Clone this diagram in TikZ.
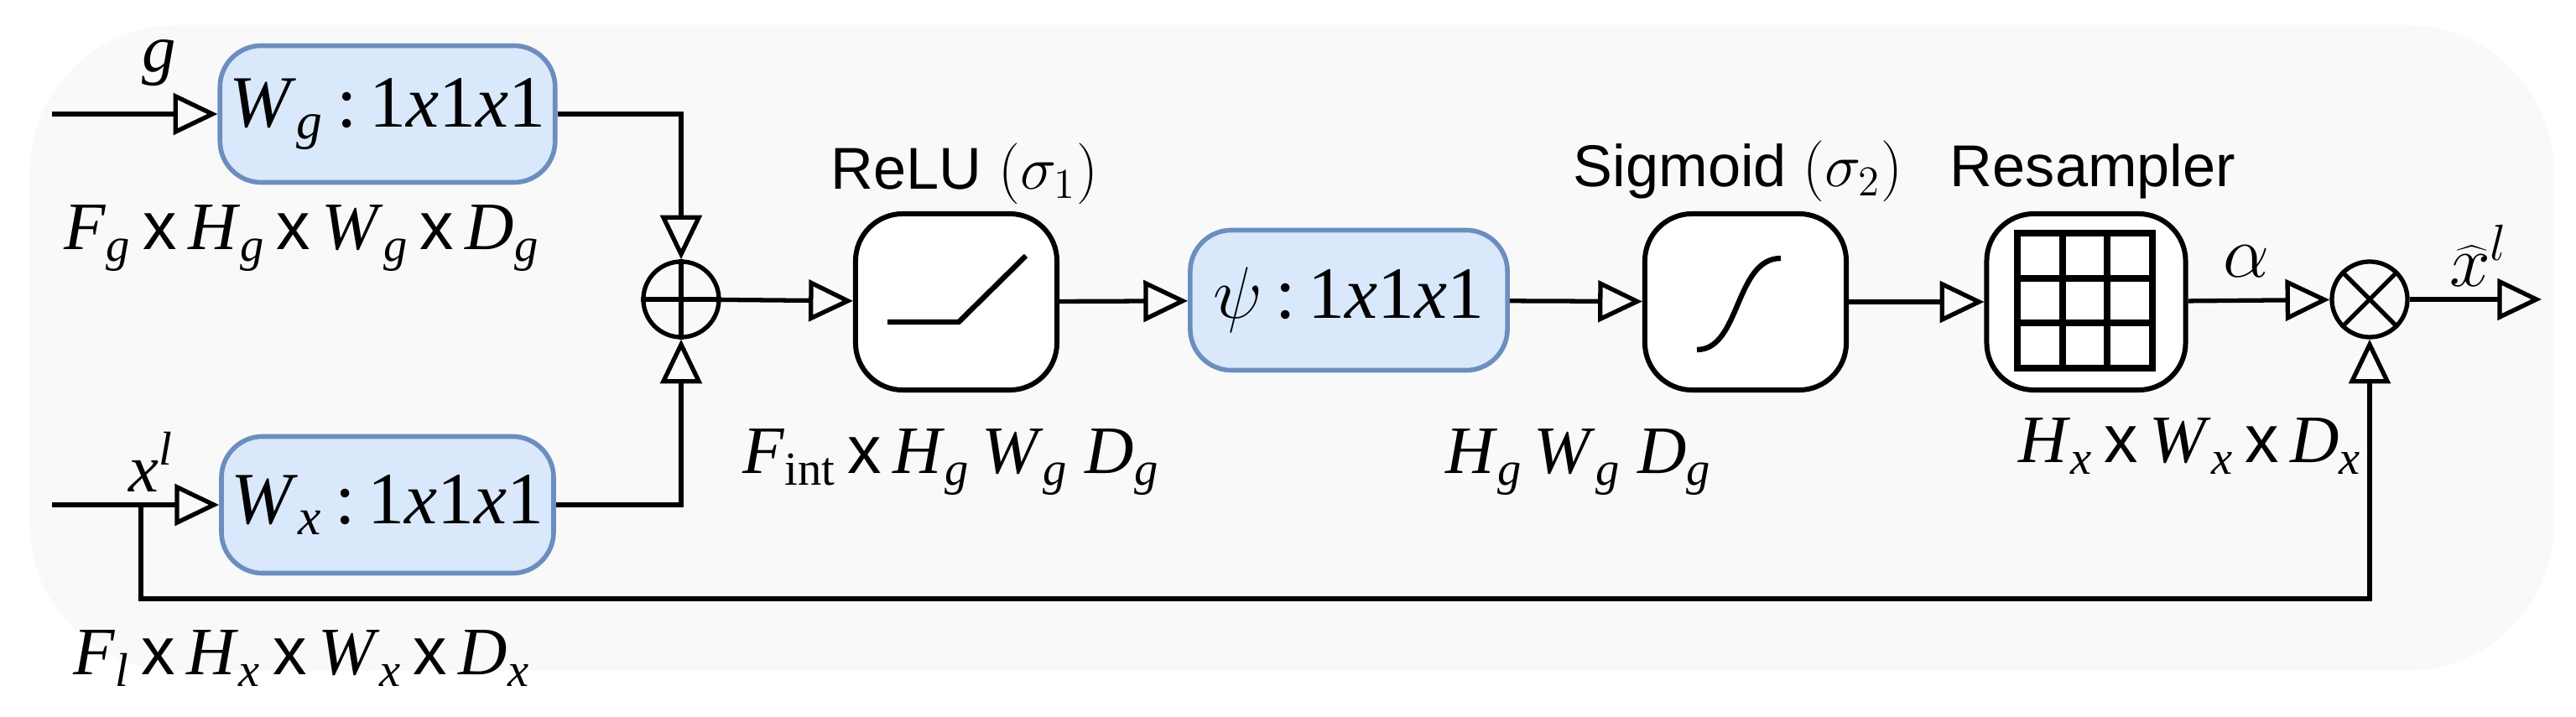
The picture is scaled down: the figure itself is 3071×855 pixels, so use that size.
\documentclass[tikz,border=0pt]{standalone}
\usepackage{fontspec}
\setmainfont{Liberation Serif}
\setsansfont{Liberation Sans}
\usetikzlibrary{arrows.meta}
\definecolor{bfill}{HTML}{DAE8FC}
\definecolor{bdraw}{HTML}{6C8EBF}
\newcommand\vv[2]{\textit{#1}\textsubscript{\textit{#2}}}
\newcommand\tx{\,\textsf{x}\,}
\begin{document}
\begin{tikzpicture}[x=0.01cm,y=-0.01cm,
  every node/.style={font=\fontsize{23}{27}\selectfont},
  blue box/.style={draw=bdraw,fill=bfill,line width=1.6pt,rounded corners=14pt,minimum width=3.8cm,minimum height=1.63cm,font=\fontsize{25}{29}\selectfont},
  blk/.style={draw,line width=1.7pt,fill=white,rounded corners=16pt,minimum width=2.4cm,minimum height=2.1cm},
  op/.style={draw,line width=1.5pt,circle,minimum size=0.9cm,inner sep=0pt},
  conn/.style={line width=1.5pt},
  arr/.style={conn,-{Triangle[open,length=15pt,width=14pt,line width=1.5pt]}},
  lab/.style={inner sep=0pt},
  slab/.style={inner sep=0pt,font=\sffamily\fontsize{20}{24}\selectfont}]
\useasboundingbox (0,0) rectangle (3071,855);
\fill[gray!5,rounded corners=50pt] (35,30) rectangle (3045,800);
% nodes
\node[blue box] (wg) at (462,136) {\vv{W}{g}\,:\,1\textit{x}1\textit{x}1};
\node[blue box] (wx) at (462,602) {\vv{W}{x}\,:\,1\textit{x}1\textit{x}1};
\node[op] (add) at (812,357) {};
\draw[line width=1.5pt] (add.north)--(add.south) (add.west)--(add.east);
\node[blk] (relu) at (1140,360) {};
\draw[line width=1.8pt] (1058,384) -- (1143,384) -- (1223,305);
\node[blue box,minimum width=3.78cm,minimum height=1.67cm] (psi) at (1608,358) {$\psi$\,:\,1\textit{x}1\textit{x}1};
\node[blk] (sig) at (2081,360) {};
\draw[line width=1.8pt] (2023,417) .. controls (2075,417) and (2068,308) .. (2123,308);
\node[blk,minimum width=2.37cm] (res) at (2487,360) {};
\draw[line width=2.2pt] (2405,278) rectangle (2566,439);
\draw[line width=2.2pt] (2459,278)--(2459,439) (2512,278)--(2512,439) (2405,332)--(2566,332) (2405,385)--(2566,385);
\node[op] (mul) at (2825,357) {};
\draw[line width=1.5pt] (mul.north west)--(mul.south east) (mul.north east)--(mul.south west);
\coordinate (gin) at (62,136);
\coordinate (xin) at (62,602);
\coordinate (br) at (168,602);
\coordinate (out) at (3030,357);
\coordinate (bc) at (2825,714);
% connectors
\draw[arr] (gin) -- (wg);
\draw[arr] (xin) -- (wx);
\draw[arr] (wg.east) -| (add.north);
\draw[arr] (wx.east) -| (add.south);
\draw[arr] (add) -- (relu);
\draw[arr] (relu) -- (psi);
\draw[arr] (psi) -- (sig);
\draw[arr] (sig) -- (res);
\draw[arr] (res) -- (mul);
\draw[arr] (mul) -- (out);
\draw[arr] (br) |- (bc) -- (mul.south);
% labels
\node[lab] at (190,75) {\textit{g}};
\node[lab] at (180,551) {\textit{x}\textsuperscript{\textit{l}}};
\node[lab] at (360,284) {\vv{F}{g}\tx\vv{H}{g}\tx\vv{W}{g}\tx\vv{D}{g}};
\node[lab] at (360,785) {\vv{F}{l}\tx\vv{H}{x}\tx\vv{W}{x}\tx\vv{D}{x}};
\node[lab] at (1134,551) {\textit{F}\textsubscript{int}\tx\vv{H}{g}\,\vv{W}{g}\ \vv{D}{g}};
\node[lab] at (1882,551) {\vv{H}{g}\,\vv{W}{g}\ \vv{D}{g}};
\node[lab] at (2611,532) {\vv{H}{x}\tx\vv{W}{x}\tx\vv{D}{x}};
\node[slab] at (1150,207) {ReLU $(\sigma_1)$};
\node[slab] at (2072,204) {Sigmoid $(\sigma_2)$};
\node[slab] at (2495,204) {Resampler};
\node[lab] at (2678,312) {$\alpha$};
\node[lab] at (2955,305) {$\widehat{x}^l$};
\end{tikzpicture}
\end{document}
